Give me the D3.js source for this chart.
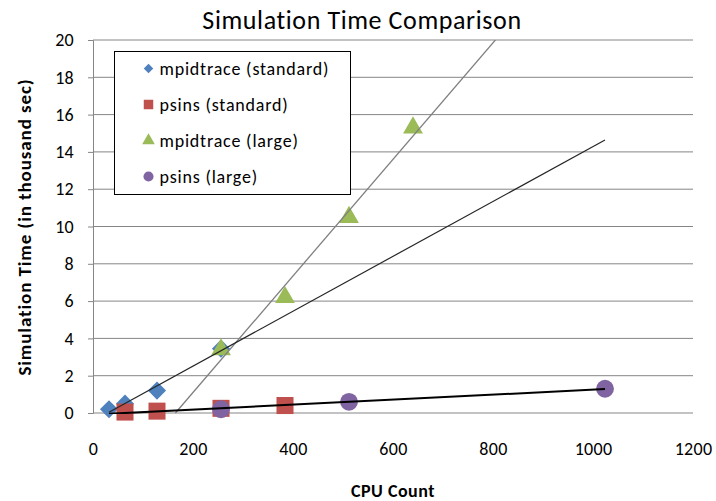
<!DOCTYPE html>
<html>
<head>
<meta charset="utf-8">
<script src="https://cdn.jsdelivr.net/npm/d3@7"></script>
<style>
    body { margin: 0; background: #fff; }
    text { font-family: Calibri, Carlito, Lato, sans-serif; fill: #000; }
</style>
</head>
<body>
<svg id="chart" width="716" height="501"></svg>
<script>
// Data (x = CPU count, y = thousand sec)
var mpiStdX = [32, 64, 128, 256];
var mpiStdY = [0.2, 0.5, 1.2, 3.45];
var psinsStdX = [64, 128, 256, 384];
var psinsStdY = [0.05, 0.1, 0.25, 0.4];
var mpiLargeX = [256, 384, 512, 640];
var mpiLargeY = [3.4, 6.2, 10.5, 15.3];
var psinsLargeX = [256, 512, 1024];
var psinsLargeY = [0.2, 0.6, 1.3];

var xTicks = [0, 200, 400, 600, 800, 1000, 1200];
var yTicks = [0, 2, 4, 6, 8, 10, 12, 14, 16, 18, 20];

var seriesNames = ["mpidtrace (standard)", "psins (standard)", "mpidtrace (large)", "psins (large)"];
var seriesColors = ["#4F81BD", "#C0504D", "#9BBB59", "#8064A2"];

var svg = d3.select("#chart");
var margin = { top: 40, left: 93, right: 23, bottom: 88 };
var width = +svg.attr("width") - margin.left - margin.right,
    height = +svg.attr("height") - margin.top - margin.bottom;

var g = svg.append("g")
    .attr("transform", "translate(" + margin.left + "," + margin.top + ")");

var xScale = d3.scaleLinear().domain([0, 1200]).range([0, width]);
var yScale = d3.scaleLinear().domain([0, 20]).range([height, 0]);

// zip x/y arrays
var zip = function(xs, ys) {
    return xs.map(function(x, i) { return { x: x, y: ys[i] }; });
};

// least squares fit
var fit = function(pts) {
    var mx = d3.mean(pts, function(d) { return d.x; }),
        my = d3.mean(pts, function(d) { return d.y; });
    var sxy = d3.sum(pts, function(d) { return (d.x - mx) * (d.y - my); }),
        sxx = d3.sum(pts, function(d) { return (d.x - mx) * (d.x - mx); });
    var slope = sxy / sxx;
    return { slope: slope, intercept: my - slope * mx };
};

// Gridlines
g.append("g")
    .selectAll("line")
    .data(yTicks)
    .enter()
    .append("line")
    .attr("x1", 0)
    .attr("x2", width)
    .attr("y1", function(d) { return yScale(d); })
    .attr("y2", function(d) { return yScale(d); })
    .attr("stroke", "#868686")
    .attr("stroke-width", 1);

// Y axis
var yAxis = g.append("g")
    .call(d3.axisLeft(yScale).tickValues(yTicks).tickSize(5).tickPadding(14));
yAxis.select(".domain").attr("stroke", "#868686");
yAxis.selectAll(".tick line").attr("stroke", "#868686");
yAxis.selectAll("text")
    .style("font-size", "18px")
    .style("letter-spacing", "0.3px")
    .attr("fill", "#000");

// X axis (labels only)
var xAxis = g.append("g")
    .attr("transform", "translate(0," + height + ")")
    .call(d3.axisBottom(xScale).tickValues(xTicks).tickFormat(d3.format("d")).tickSize(0).tickPadding(29));
xAxis.select(".domain").remove();
xAxis.selectAll("text")
    .style("font-size", "18px")
    .style("letter-spacing", "0.3px")
    .attr("fill", "#000");

// Markers
var symbols = [d3.symbolSquare, d3.symbolSquare, d3.symbolTriangle, d3.symbolCircle];
var sizes = [165, 290, 170, 250];
var rotations = [45, 0, 0, 0];
var allSeries = [
    zip(mpiStdX, mpiStdY),
    zip(psinsStdX, psinsStdY),
    zip(mpiLargeX, mpiLargeY),
    zip(psinsLargeX, psinsLargeY)
];

allSeries.forEach(function(pts, si) {
    g.append("g")
        .selectAll("path")
        .data(pts)
        .enter()
        .append("path")
        .attr("d", d3.symbol().type(symbols[si]).size(sizes[si]))
        .attr("transform", function(d) {
            return "translate(" + xScale(d.x) + "," + yScale(d.y) + ") rotate(" + rotations[si] + ")";
        })
        .attr("fill", seriesColors[si]);
});

// Trendlines
g.append("clipPath").attr("id", "plotclip")
    .append("rect").attr("width", width).attr("height", height + 1);

var trendLine = d3.line()
    .x(function(d) { return xScale(d.x); })
    .y(function(d) { return yScale(d.y); });

var drawTrend = function(pts, x0, x1, color, w) {
    var f = fit(pts);
    var ends = [x0, x1].map(function(x) {
        return { x: x, y: f.slope * x + f.intercept };
    });
    g.append("path")
        .datum(ends)
        .attr("clip-path", "url(#plotclip)")
        .attr("d", trendLine)
        .attr("fill", "none")
        .attr("stroke", color)
        .attr("stroke-width", w);
};

var mpiLargeFit = fit(allSeries[2]);
drawTrend(allSeries[2], -mpiLargeFit.intercept / mpiLargeFit.slope, 1200, "#7f7f7f", 1.3);
drawTrend(allSeries[0], 32, 1024, "#262626", 1.2);
drawTrend(allSeries[1].concat(allSeries[3]), 32, 1024, "#000", 2);

// Legend
var legend = svg.append("g").attr("transform", "translate(114.5,51.5)");
legend.append("rect")
    .attr("width", 236)
    .attr("height", 143)
    .attr("fill", "#fff")
    .attr("stroke", "#000")
    .attr("stroke-width", 1);

var legendSizes = [45, 90, 70, 80];
seriesNames.forEach(function(name, i) {
    var row = legend.append("g").attr("transform", "translate(34," + (17 + i * 36) + ")");
    row.append("path")
        .attr("d", d3.symbol().type(symbols[i]).size(legendSizes[i]))
        .attr("transform", "rotate(" + rotations[i] + ")")
        .attr("fill", seriesColors[i]);
    row.append("text")
        .attr("x", 11)
        .attr("dy", "0.35em")
        .style("font-size", "18px")
        .style("letter-spacing", "0.8px")
        .text(name);
});

// Title
svg.append("text")
    .attr("x", 362)
    .attr("y", 29)
    .attr("text-anchor", "middle")
    .style("font-size", "26px")
    .style("letter-spacing", "0.6px")
    .text("Simulation Time Comparison");

// Axis titles
svg.append("text")
    .attr("x", 393)
    .attr("y", 497)
    .attr("text-anchor", "middle")
    .style("font-size", "18px")
    .style("letter-spacing", "0.5px")
    .style("font-weight", "bold")
    .text("CPU Count");

svg.append("text")
    .attr("transform", "translate(31,227) rotate(-90)")
    .attr("text-anchor", "middle")
    .style("font-size", "19px")
    .style("letter-spacing", "0.9px")
    .style("font-weight", "bold")
    .text("Simulation Time (in thousand sec)");
</script>
</body>
</html>
